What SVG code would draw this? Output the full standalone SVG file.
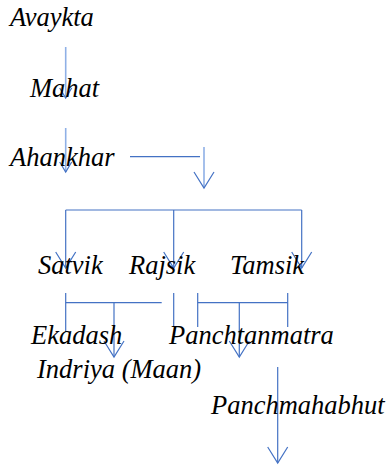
<svg xmlns="http://www.w3.org/2000/svg" width="388" height="466" viewBox="0 0 388 466">
<style>
text{font-family:'Liberation Serif','Times New Roman',serif;font-style:italic;font-size:26.5px;fill:#000}
.c{stroke:#4472C4;stroke-width:1.2;fill:none}
.l{stroke:#8fb0e6;stroke-width:1.6;fill:none}
</style>
<defs>
<marker id="ah" markerUnits="userSpaceOnUse" markerWidth="40" markerHeight="40" refX="0" refY="0" orient="auto" overflow="visible">
<path d="M-16,-10 L0,0 L-16,10" fill="none" stroke="#4472C4" stroke-width="1.2"/>
</marker>
<marker id="ahs" markerUnits="userSpaceOnUse" markerWidth="40" markerHeight="40" refX="0" refY="0" orient="auto" overflow="visible">
<path d="M-10,-6 L0,0 L-10,6" fill="none" stroke="#4472C4" stroke-width="1.2"/>
</marker>
</defs>
<g id="connectors">
<line class="l" x1="65.7" y1="47" x2="65.7" y2="98" marker-end="url(#ahs)"/>
<line class="l" x1="65.7" y1="128" x2="65.7" y2="172" marker-end="url(#ahs)"/>
<line class="c" x1="130" y1="156.7" x2="200" y2="156.7"/>
<line class="l" x1="204" y1="147" x2="204" y2="188" marker-end="url(#ah)"/>
<line class="c" x1="65.7" y1="210" x2="301.7" y2="210"/>
<line class="c" x1="65.7" y1="210" x2="65.7" y2="268" marker-end="url(#ah)"/>
<line class="c" x1="173.7" y1="210" x2="173.7" y2="268" marker-end="url(#ah)"/>
<line class="c" x1="301.7" y1="210" x2="301.7" y2="268" marker-end="url(#ah)"/>
<line class="c" x1="65.7" y1="293" x2="65.7" y2="332"/>
<line class="c" x1="65.7" y1="302.7" x2="161.7" y2="302.7"/>
<line class="c" x1="114" y1="302.7" x2="114" y2="357" marker-end="url(#ah)"/>
<line class="c" x1="173.7" y1="293" x2="173.7" y2="327"/>
<line class="c" x1="197.7" y1="293" x2="197.7" y2="327"/>
<line class="c" x1="287.7" y1="293" x2="287.7" y2="327"/>
<line class="c" x1="197.7" y1="302.7" x2="287.7" y2="302.7"/>
<line class="c" x1="239.3" y1="302.7" x2="239.3" y2="357" marker-end="url(#ah)"/>
<line class="c" x1="277.7" y1="367" x2="277.7" y2="463" marker-end="url(#ah)"/>
</g>
<g id="avaykta"><text x="10" y="26">Avaykta</text></g>
<g id="mahat"><text x="30" y="97">Mahat</text></g>
<g id="ahankhar"><text x="10" y="166">Ahankhar</text></g>
<g id="satvik"><text x="38" y="274">Satvik</text></g>
<g id="rajsik"><text x="129" y="274">Rajsik</text></g>
<g id="tamsik"><text x="230" y="274">Tamsik</text></g>
<g id="ekadash"><text x="31" y="344">Ekadash</text><text x="37" y="378">Indriya (Maan)</text></g>
<g id="panchtanmatra"><text x="169" y="344">Panchtanmatra</text></g>
<g id="panchmahabhut"><text x="211" y="414">Panchmahabhut</text></g>
</svg>
